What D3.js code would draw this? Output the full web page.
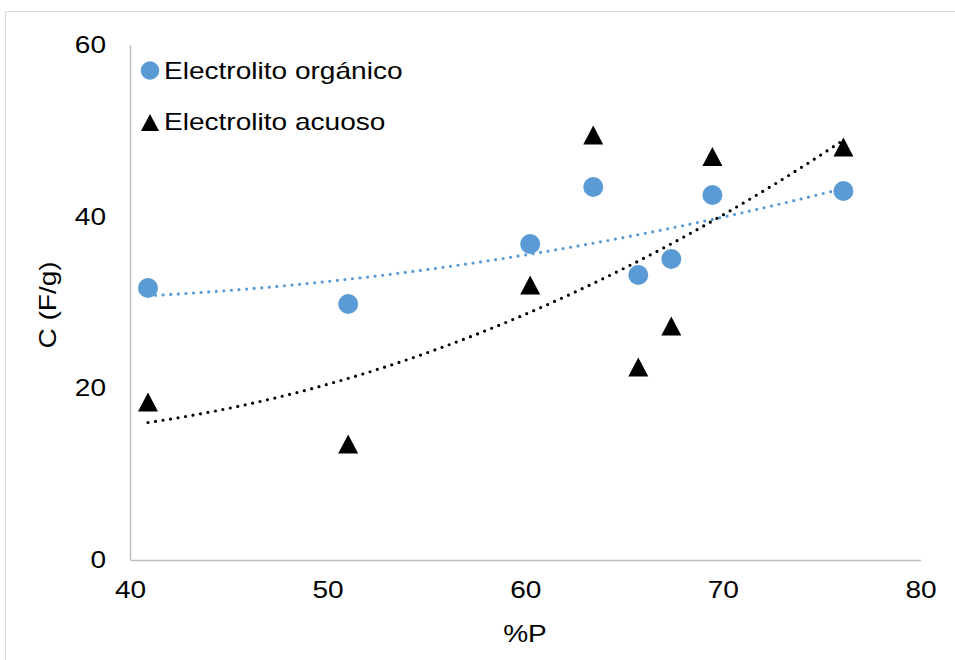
<!DOCTYPE html>
<html>
<head>
<meta charset="utf-8">
<script src="https://cdn.jsdelivr.net/npm/d3@7"></script>
<style>
  html, body { margin: 0; padding: 0; background: #fff; }
  svg text { font-family: "Liberation Sans", Arial, sans-serif; fill: #000; }
</style>
</head>
<body>
<svg id="chart" width="955" height="660"></svg>
<script>
// ---- data ----
const xPercentP = [40.91, 51.04, 60.25, 63.44, 65.72, 67.39, 69.47, 76.1];
const organicC  = [31.69, 29.83, 36.82, 43.46, 33.21, 35.07, 42.53, 42.99];
const aqueousC  = [18.41, 13.51, 32.04, 49.52, 22.49, 27.26, 47.01, 48.12];
const xTicks = [40, 50, 60, 70, 80];
const yTicks = [0, 20, 40, 60];
const seriesNames = ["Electrolito orgánico", "Electrolito acuoso"];
const xTitle = "%P";
const yTitle = "C (F/g)";

const blue = "#5b9bd5";
const FS = 23;      // font size
const SX = 1.22;    // horizontal stretch of text (as in the reference)
const svg = d3.select("#chart");

// chart frame
svg.append("rect").attr("x", 5.5).attr("y", 11.5).attr("width", 1000).attr("height", 1000)
  .attr("fill", "none").attr("stroke", "#d9d9d9").attr("stroke-width", 1);

const x = d3.scaleLinear().domain([40, 80]).range([130, 920.5]);
const y = d3.scaleLinear().domain([0, 60]).range([560, 45]);

// axes (lines only, no tick marks)
const xAxis = d3.axisBottom(x).tickValues(xTicks).tickSize(0).tickPadding(22);
const gx = svg.append("g").attr("transform", "translate(0,560)").call(xAxis);
gx.select(".domain").attr("stroke", "#bfbfbf").attr("stroke-width", 1.5);
gx.selectAll("text").attr("font-size", FS).attr("fill", "#000")
  .attr("font-family", "Liberation Sans, Arial, sans-serif")
  .attr("transform", `scale(${SX},1)`);

const yAxis = d3.axisLeft(y).tickValues(yTicks).tickSize(0).tickPadding(24);
const gy = svg.append("g").attr("transform", "translate(130,0)").call(yAxis);
gy.select(".domain").attr("stroke", "#bfbfbf").attr("stroke-width", 1.5);
gy.selectAll("text").attr("font-size", FS).attr("fill", "#000")
  .attr("font-family", "Liberation Sans, Arial, sans-serif")
  .attr("x", -24 / SX)
  .attr("transform", `scale(${SX},1)`);

// axis titles
svg.append("text").attr("transform", `translate(525,642) scale(${SX},1)`)
  .attr("text-anchor", "middle").attr("font-size", FS).text(xTitle);
svg.append("text").attr("transform", `translate(56,305) rotate(-90) scale(${SX},1)`)
  .attr("text-anchor", "middle").attr("font-size", FS).text(yTitle);

// quadratic least-squares trendline (Excel polynomial order 2)
function polyfit2(xs, ys) {
  const n = xs.length;
  let s = [0,0,0,0,0], t = [0,0,0];
  for (let i = 0; i < n; i++) {
    const xi = xs[i], yi = ys[i];
    let p = 1;
    for (let k = 0; k < 5; k++) { s[k] += p; if (k < 3) t[k] += p * yi; p *= xi; }
  }
  const A = [[s[0], s[1], s[2], t[0]], [s[1], s[2], s[3], t[1]], [s[2], s[3], s[4], t[2]]];
  for (let i = 0; i < 3; i++) {
    for (let j = i + 1; j < 3; j++) {
      const f = A[j][i] / A[i][i];
      for (let k = i; k < 4; k++) A[j][k] -= f * A[i][k];
    }
  }
  const c = [0,0,0];
  for (let i = 2; i >= 0; i--) {
    let v = A[i][3];
    for (let k = i + 1; k < 3; k++) v -= A[i][k] * c[k];
    c[i] = v / A[i][i];
  }
  return xv => c[0] + c[1] * xv + c[2] * xv * xv;
}

function trend(ys, color) {
  const f = polyfit2(xPercentP, ys);
  const [x0, x1] = d3.extent(xPercentP);
  const pts = d3.range(0, 101).map(i => { const xv = x0 + (x1 - x0) * i / 100; return [xv, f(xv)]; });
  svg.append("path").datum(pts)
    .attr("d", d3.line().x(d => x(d[0])).y(d => y(d[1])))
    .attr("fill", "none").attr("stroke", color).attr("stroke-width", 3.2)
    .attr("stroke-linecap", "round").attr("stroke-dasharray", "0 7.6");
}
trend(organicC, blue);
trend(aqueousC, "#000");

// triangle symbol: size = width, height ~0.95*width, centred on its box
const triangleType = {
  draw(ctx, size) {
    const w = size, h = size * 0.95;
    ctx.moveTo(0, -h / 2);
    ctx.lineTo(w / 2, h / 2);
    ctx.lineTo(-w / 2, h / 2);
    ctx.closePath();
  }
};

// markers
svg.append("g").selectAll("path").data(xPercentP.map((v, i) => [v, aqueousC[i]])).join("path")
  .attr("d", d3.symbol().type(triangleType).size(20))
  .attr("transform", d => `translate(${x(d[0])},${y(d[1])})`)
  .attr("fill", "#000");
svg.append("g").selectAll("circle").data(xPercentP.map((v, i) => [v, organicC[i]])).join("circle")
  .attr("cx", d => x(d[0])).attr("cy", d => y(d[1])).attr("r", 10)
  .attr("fill", blue);

// legend
const lg = svg.append("g");
lg.append("circle").attr("cx", 150).attr("cy", 70.5).attr("r", 9.3).attr("fill", blue);
lg.append("text").attr("transform", `translate(164,78.5) scale(${SX},1)`)
  .attr("font-size", FS).text(seriesNames[0]);
lg.append("path").attr("d", d3.symbol().type(triangleType).size(18))
  .attr("transform", "translate(150,122.5)").attr("fill", "#000");
lg.append("text").attr("transform", `translate(164,129.5) scale(${SX},1)`)
  .attr("font-size", FS).text(seriesNames[1]);
</script>
</body>
</html>
